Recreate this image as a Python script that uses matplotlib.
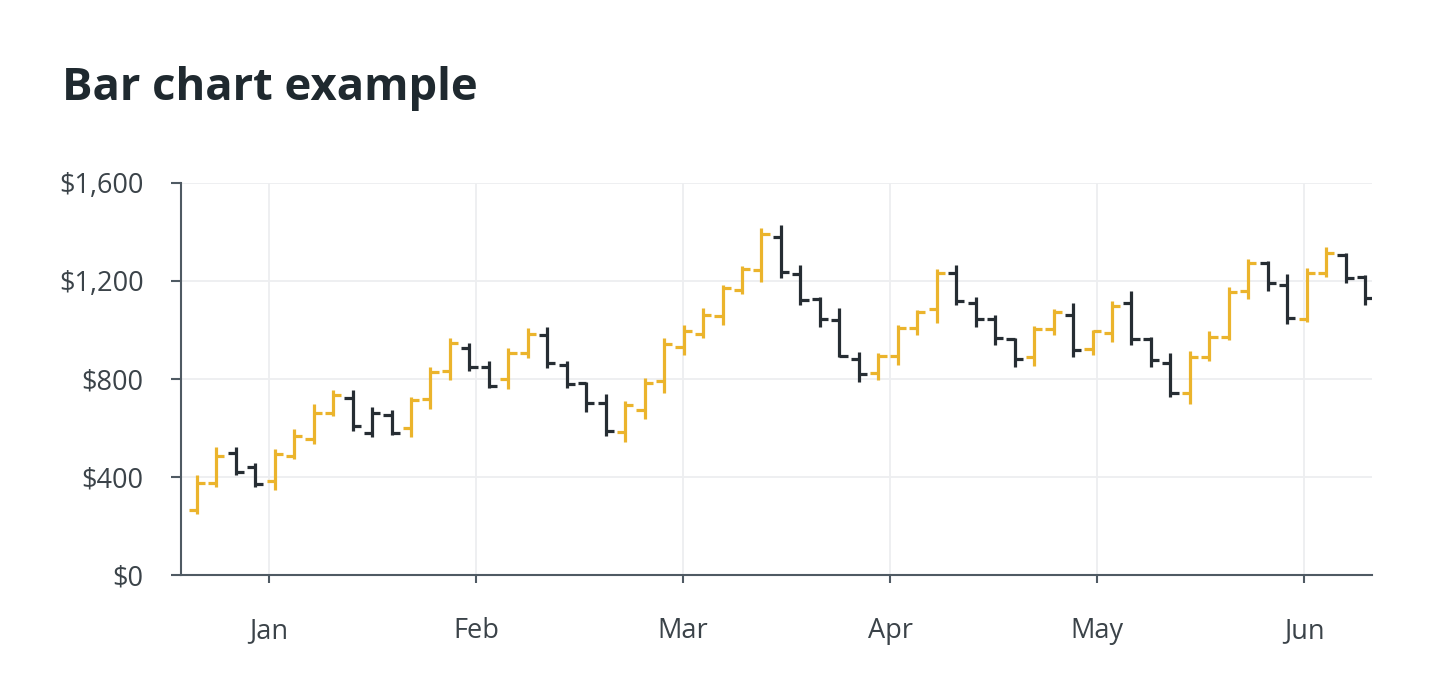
import numpy as np
import matplotlib.pyplot as plt
from matplotlib.ticker import FuncFormatter, MultipleLocator

# OHLC values, one bar per period
opens = [265, 374, 497, 440, 385, 486, 554, 660, 721, 581,
         653, 599, 717, 834, 925, 850, 799, 905, 980, 857,
         782, 701, 585, 673, 793, 932, 984, 1057, 1163, 1245,
         1381, 1229, 1125, 1041, 880, 823, 895, 1007, 1084, 1231,
         1112, 1044, 962, 891, 1003, 1061, 921, 989, 1112, 962,
         867, 744, 888, 970, 1160, 1275, 1184, 1044, 1231, 1306,
         1215]
highs = [408, 521, 521, 459, 513, 595, 698, 755, 755, 687,
         673, 725, 848, 966, 948, 875, 925, 1007, 1011, 875,
         789, 739, 711, 803, 966, 1020, 1088, 1184, 1261, 1415,
         1429, 1265, 1136, 1088, 911, 905, 1020, 1082, 1248, 1265,
         1136, 1061, 966, 1016, 1084, 1112, 1000, 1120, 1160, 970,
         905, 916, 997, 1177, 1289, 1283, 1229, 1252, 1340, 1316,
         1224]
lows = [249, 358, 408, 358, 347, 472, 535, 649, 589, 563,
        571, 562, 679, 796, 834, 762, 758, 884, 844, 762,
        667, 567, 544, 636, 744, 898, 966, 1020, 1147, 1197,
        1211, 1102, 1013, 891, 789, 796, 857, 980, 1030, 1102,
        1013, 939, 850, 853, 980, 891, 898, 952, 939, 850,
        728, 698, 875, 959, 1125, 1160, 1024, 1034, 1218, 1193,
        1102]
closes = [374, 486, 422, 370, 494, 567, 663, 733, 608, 660,
          578, 714, 830, 948, 848, 771, 907, 984, 864, 780,
          703, 589, 694, 785, 943, 997, 1061, 1170, 1248, 1392,
          1235, 1122, 1044, 895, 820, 894, 1007, 1075, 1231, 1120,
          1044, 966, 880, 1003, 1075, 918, 996, 1098, 962, 878,
          744, 891, 973, 1156, 1275, 1190, 1048, 1231, 1316, 1211,
          1129]
months = ["Jan", "Feb", "Mar", "Apr", "May", "Jun"]

UP = "#EBB42C"
DOWN = "#262D33"
TEXT = "#3B4349"
AXIS = "#4F5A63"
GRID = "#EDEEF0"

x = np.arange(len(opens))
trend = ["up" if c >= o else "down" for o, c in zip(opens, closes)]
trend[9] = "down"  # drawn dark in the source even though it closes higher
colors = [UP if t == "up" else DOWN for t in trend]

fig = plt.figure(figsize=(14.3, 6.96), dpi=100)
ax = fig.add_axes([0.1266, 0.1739, 0.8328, 0.5632])

lw = 2.3
half = 0.42
ax.vlines(x, lows, highs, colors=colors, lw=lw, zorder=3)
ax.hlines(opens, x - half, x, colors=colors, lw=lw, zorder=3)
ax.hlines(closes, x, x + half, colors=colors, lw=lw, zorder=3)

ax.set_ylim(0, 1600)
ax.set_xlim(-0.81, 60.35)
ax.yaxis.set_major_locator(MultipleLocator(400))
ax.yaxis.set_major_formatter(FuncFormatter(lambda v, _: f"${v:,.0f}"))

# month ticks, evenly spaced along the bar index
tick_start, tick_step = 3.72, 10.63
ax.set_xticks([tick_start + tick_step * k for k in range(len(months))])
ax.set_xticklabels(months)

ax.grid(True, color=GRID, lw=1.3, zorder=0)
for side in ("top", "right"):
    ax.spines[side].set_visible(False)
for side in ("left", "bottom"):
    ax.spines[side].set_color(AXIS)
    ax.spines[side].set_linewidth(1.5)

ax.tick_params(axis="y", length=7, width=1.5, color=AXIS, pad=20,
               labelsize=19.5, labelcolor=TEXT)
ax.tick_params(axis="x", length=6, width=1.5, color=AXIS, pad=24,
               labelsize=19.5, labelcolor=TEXT)
for lab in ax.get_xticklabels() + ax.get_yticklabels():
    lab.set_family("Open Sans")

fig.text(0.0434, 0.856, "Bar chart example", fontsize=32.7, fontweight="bold",
         family="Open Sans", color="#1F292F", va="baseline", ha="left")

fig.savefig("out.png", dpi=100, facecolor="white")
